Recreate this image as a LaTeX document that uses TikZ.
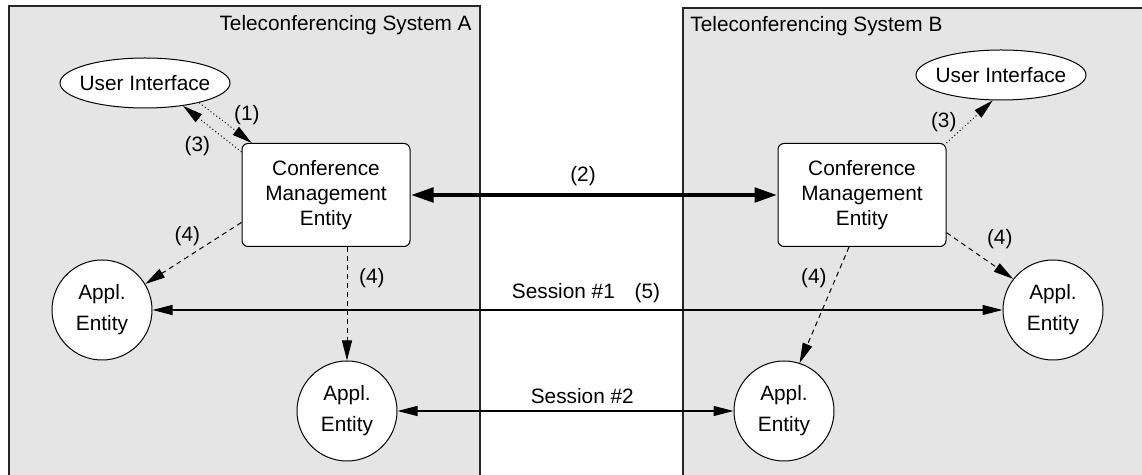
\documentclass[tikz,border=0pt]{standalone}
\usepackage{fontspec}
\setmainfont{Liberation Sans}
\usetikzlibrary{arrows.meta,shapes.geometric}

\definecolor{sysgray}{RGB}{229,229,229}

\tikzset{
  system/.style={fill=sysgray,draw=black!85,line width=.6pt},
  ui/.style={ellipse,draw,fill=white,line width=.5pt,minimum width=85pt,minimum height=25pt,inner xsep=-3pt,inner ysep=0pt},
  cme/.style={draw,fill=white,rounded corners=3pt,line width=.5pt,minimum width=84pt,minimum height=51.5pt,align=center},
  appl/.style={circle,draw,fill=white,line width=.5pt,minimum size=50pt,inner sep=0pt,align=center},
  tip/.style={-{Triangle[length=10pt,width=5pt]}},
  manage/.style={tip,line width=.5pt,dash pattern=on 2.5pt off 2pt},
  request/.style={tip,line width=.5pt,dash pattern=on .5pt off 1.3pt},
  session/.style={{Triangle[length=10pt,width=5pt]}-{Triangle[length=10pt,width=5pt]},line width=.6pt},
  link/.style={{Triangle[length=11.5pt,width=7pt]}-{Triangle[length=11.5pt,width=7pt]},line width=2.4pt}
}

\begin{document}
\begin{tikzpicture}[x=.5pt,y=-.5pt,font=\fontsize{10.4}{12.5}\selectfont]
  \useasboundingbox (0,0) rectangle (1142,475);
  \clip (0,0) rectangle (1142,475);
  \fill[white] (0,0) rectangle (1142,475);

  % the two systems
  \draw[system] (9,6) rectangle (480,490);
  \draw[system] (683,8) rectangle (1160,490);
  \node[anchor=base east,inner sep=0pt] (titleA) at (472,31) {Teleconferencing System A};
  \node[anchor=base west,inner sep=0pt] (titleB) at (690,32) {Teleconferencing System B};

  % system A
  \node[ui] (uiA) at (145,83) {User Interface};
  \node[cme] (cmeA) at (326,195) {Conference\\Management\\Entity};
  \node[appl] (applA1) at (102,310) {Appl.\\[3pt]Entity};
  \node[appl] (applA2) at (347,411) {Appl.\\[3pt]Entity};

  % system B
  \node[ui] (uiB) at (1001,75) {User Interface};
  \node[cme] (cmeB) at (862,195) {Conference\\Management\\Entity};
  \node[appl] (applB1) at (1053,310) {Appl.\\[3pt]Entity};
  \node[appl] (applB2) at (784,411) {Appl.\\[3pt]Entity};

  % user requests
  \draw[request] (uiA.-20) -- node[right=6pt,pos=.3]{(1)} (cmeA.145);
  \draw[request] (cmeA.153) -- node[below left=-1pt,pos=.45]{(3)} (uiA.-31);
  \draw[request] (cmeB.north east) -- node[left=3pt,pos=.5]{(3)} (uiB.-108);

  % conference management
  \draw[link] (cmeA.east) -- node[above,pos=.47]{(2)} (cmeB.west);
  \draw[manage] (cmeA.198) -- node[above,pos=.5,xshift=-3pt]{(4)} (applA1.31);
  \draw[manage] (cmeA.south -| applA2.north) -- node[right=2.5pt,pos=.27]{(4)} (applA2.north);
  \draw[manage] (cmeB.-24) -- node[above right=0pt,pos=.5]{(4)} (applB1.142);
  \draw[manage] (cmeB.256) -- node[left=1pt,pos=.27]{(4)} (applB2.72);

  % sessions
  \draw[session] (applA1) -- node[above,pos=.51]{Session \#1\hspace{.95em}(5)} (applB1);
  \draw[session] (applA2) -- node[above,pos=.55]{Session \#2} (applB2);
\end{tikzpicture}
\end{document}
